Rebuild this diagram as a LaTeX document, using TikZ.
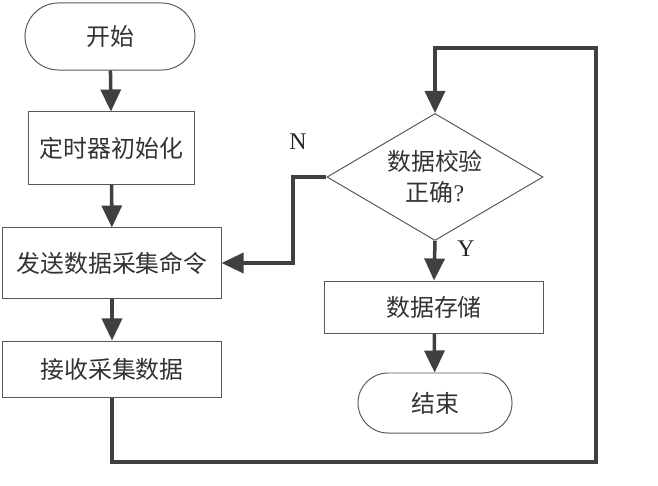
\documentclass[tikz,border=0pt]{standalone}
\usepackage{fontspec}
\setmainfont{Liberation Serif}
\newfontfamily\cjk{Noto Sans CJK SC}
\usepackage{tikz}
\usetikzlibrary{calc, shapes.misc, shapes.geometric, arrows.meta}

\begin{document}
\begin{tikzpicture}[x=0.025cm, y=-0.025cm,
  box/.style={draw=black!65, line width=0.7pt, rectangle, inner sep=0pt, font=\cjk\fontsize{17}{22}\selectfont, text=black!80},
  term/.style={box, rounded rectangle},
  test/.style={box, diamond, aspect=1.7, align=center},
  flow/.style={draw=black!75, line width=2.5pt, -{Triangle[length=0.55cm, width=0.5cm]}},
  lbl/.style={font=\fontsize{17}{20}\selectfont, text=black!85}]
\useasboundingbox (0,0) rectangle (658,486);
\node[term, minimum width=4.25cm, minimum height=1.675cm] (start) at (110,36.5) {开始};
\node[box, minimum width=4.125cm, minimum height=1.8cm] (timer) at (111.5,148) {定时器初始化};
\node[box, minimum width=5.45cm, minimum height=1.75cm] (send) at (112,263) {发送数据采集命令};
\node[box, minimum width=5.45cm, minimum height=1.4cm] (recv) at (112,369) {接收采集数据};
\node[test, minimum width=5.4cm, minimum height=3.175cm] (check) at (435,177) {数据校验\\正确{\rmfamily ?}};
\node[box, minimum width=5.45cm, minimum height=1.3cm] (store) at (434,307) {数据存储};
\node[term, minimum width=3.85cm, minimum height=1.5cm] (stop) at (435,403) {结束};
\node[lbl] (no) at (298,142) {N};
\node[lbl] (yes) at (466,249) {Y};
\coordinate (loopa) at (596,462);
\coordinate (loopb) at (596,48);
\coordinate (nbend) at (293,177);
\draw[flow] (start) -- (timer);
\draw[flow] (timer) -- (send);
\draw[flow] (send) -- (recv);
\draw[flow] (recv.south) |- (loopa) -- (loopb) -| (check.north);
\draw[flow] (check.west) -- (nbend) |- (send.east);
\draw[flow] (check.south) -- (store.north);
\draw[flow] (store) -- (stop);
\end{tikzpicture}
\end{document}
